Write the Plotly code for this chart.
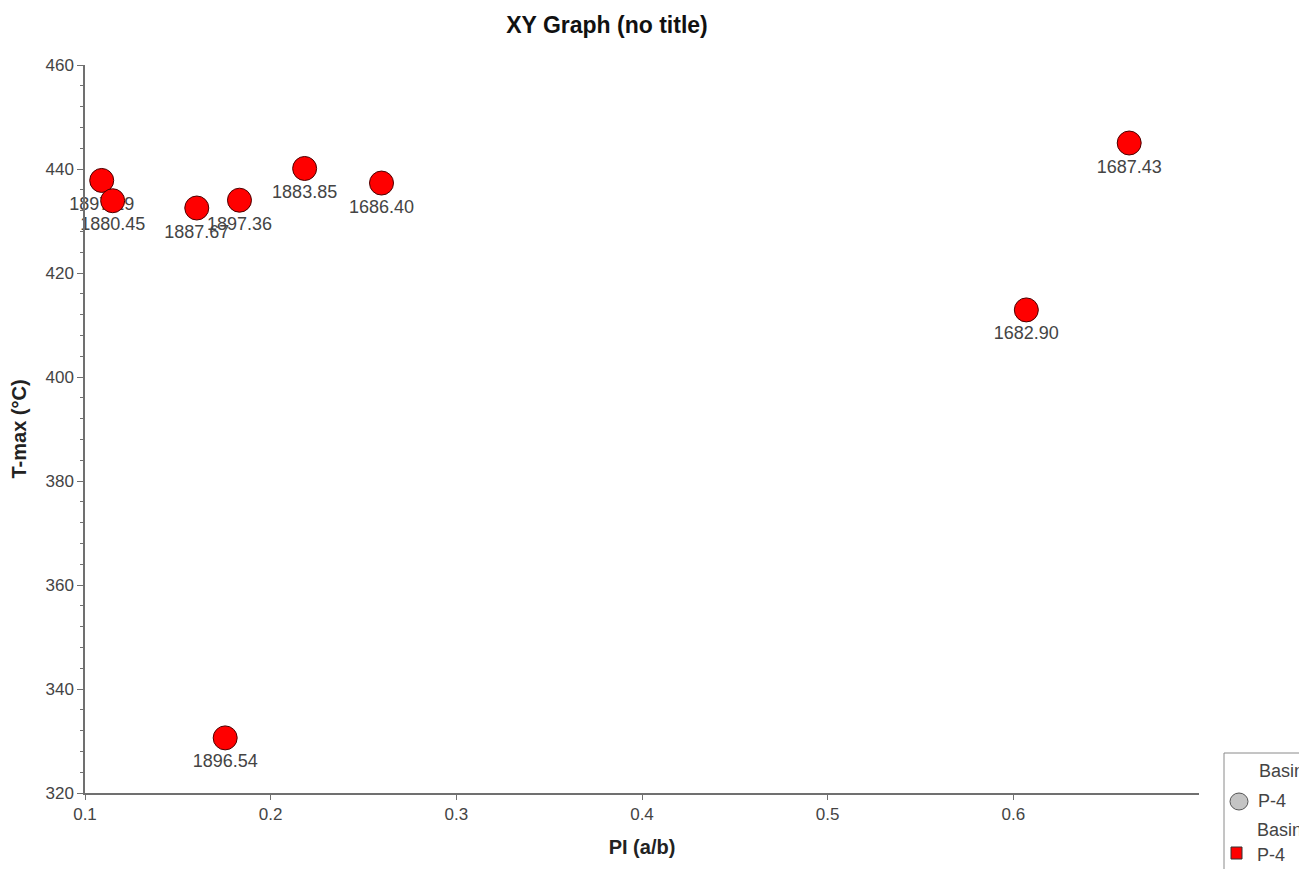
import plotly.graph_objects as go

# ---- data ----
pi_values = [0.1090, 0.1149, 0.1602, 0.1832, 0.2183, 0.2597, 0.1755, 0.6070, 0.6624]
tmax_values = [437.8, 433.9, 432.5, 434.0, 440.1, 437.3, 330.6, 412.9, 445.0]
depth_labels = ["1897.19", "1880.45", "1887.67", "1897.36", "1883.85",
                "1686.40", "1896.54", "1682.90", "1687.43"]
x_ticks = [0.1, 0.2, 0.3, 0.4, 0.5, 0.6]
x_tick_text = ["0.1", "0.2", "0.3", "0.4", "0.5", "0.6"]
y_ticks = [320, 340, 360, 380, 400, 420, 440, 460]
legend_group = "Basin"
legend_item = "P-4"

FONT = "Liberation Sans, Arial, sans-serif"
OFF = 8  # page body margin
W, H = 1307 - OFF, 869 - OFF
ML, MT = 85 - OFF, 65 - OFF
MR = W - (1199 - OFF)
MB = H - (793 - OFF)

fig = go.Figure()
for x, y, lab in zip(pi_values, tmax_values, depth_labels):
    fig.add_trace(go.Scatter(
        x=[x], y=[y], text=[lab], mode="markers+text",
        textposition="bottom center",
        textfont=dict(family=FONT, size=18, color="#444444"),
        marker=dict(size=24, color="#ff0000", line=dict(color="#4a0000", width=1)),
        showlegend=False, hoverinfo="x+y+text", cliponaxis=False,
    ))

pw = W - ML - MR
ph = H - MT - MB
def px(xp):  # page pixel -> paper
    return (xp - OFF - ML) / pw
def py(yp):
    return (H - MB - (yp - OFF)) / ph

# manual legend (partially cut by the right edge, as in the reference)
shapes = [
    dict(type="rect", xref="paper", yref="paper", x0=px(1224), x1=px(1340),
         y0=py(900), y1=py(753), line=dict(color="#8a8a8a", width=1), fillcolor="white"),
    dict(type="circle", xref="paper", yref="paper", x0=px(1230), x1=px(1248),
         y0=py(810), y1=py(793), line=dict(color="#555555", width=1), fillcolor="#c4c4c4"),
    dict(type="rect", xref="paper", yref="paper", x0=px(1231), x1=px(1242),
         y0=py(859), y1=py(847), line=dict(color="#333333", width=1), fillcolor="#ff0000"),
]
annots = []
for txt, xx, yy in [(legend_group, 1257, 771), (legend_item, 1256, 801),
                    (legend_group, 1255, 830), (legend_item, 1255, 855)]:
    annots.append(dict(text=txt, xref="paper", yref="paper", x=px(xx), y=py(yy),
                       xanchor="left", yanchor="middle", showarrow=False,
                       font=dict(family=FONT, size=18, color="#444444")))

fig.update_layout(
    width=W, height=H,
    margin=dict(l=ML, r=MR, t=MT, b=MB, autoexpand=False),
    paper_bgcolor="white", plot_bgcolor="white",
    font=dict(family=FONT, color="#444444"),
    title=dict(text="<b>XY Graph (no title)</b>", x=(607 - OFF) / W, xanchor="center",
               xref="container", y=1 - (25 - OFF) / H, yanchor="middle", yref="container",
               font=dict(family=FONT, size=23, color="#111111")),
    xaxis=dict(range=[0.1, 0.7], tickvals=x_ticks, ticktext=x_tick_text,
               showgrid=False, zeroline=False, showline=True, linecolor="#707070",
               linewidth=1.5, ticks="outside", ticklen=5, tickcolor="#707070",
               tickfont=dict(family=FONT, size=17, color="#444444"),
               title=dict(text="<b>PI (a/b)</b>", standoff=17,
                          font=dict(family=FONT, size=20, color="#222222"))),
    yaxis=dict(range=[320, 460], tickvals=y_ticks,
               showgrid=False, zeroline=False, showline=True, linecolor="#707070",
               linewidth=1.5, ticks="outside", ticklen=6, tickcolor="#707070",
               tickfont=dict(family=FONT, size=17, color="#444444"),
               minor=dict(dtick=4, ticks="outside", ticklen=3, tickcolor="#707070", showgrid=False),
               title=dict(text="<b>T-max (°C)</b>", standoff=14,
                          font=dict(family=FONT, size=20, color="#222222"))),
    shapes=shapes, annotations=annots,
)

fig.write_html("out.html")
